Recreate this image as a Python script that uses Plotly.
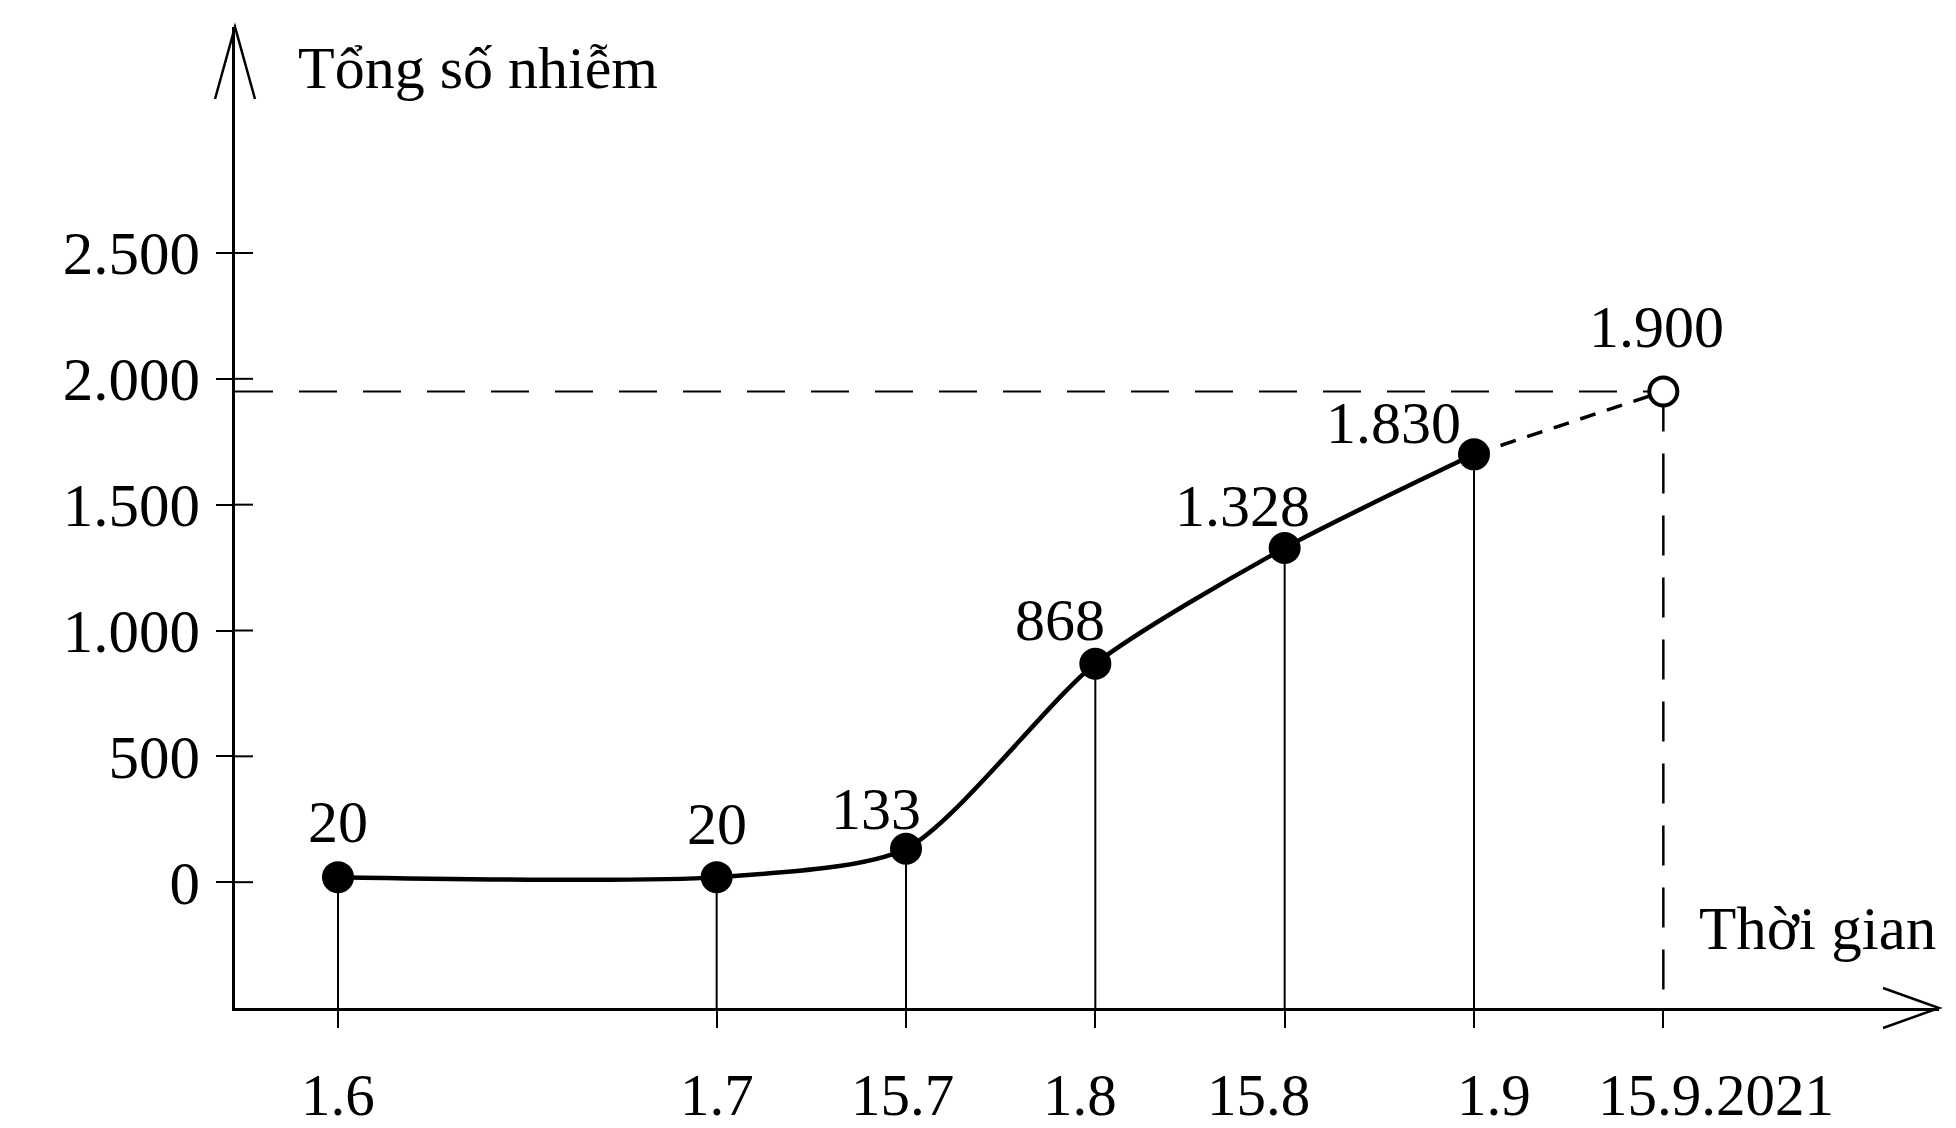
import plotly.graph_objects as go

# ---------------- data ----------------
dates = ["1.6", "1.7", "15.7", "1.8", "15.8", "1.9", "15.9.2021"]
date_pos = [0, 2, 3, 4, 5, 6, 7]                     # position of each date on the time axis
plotted_values = [20, 20, 133, 868, 1328, 1700, 1950]  # heights as drawn in the picture
value_labels = ["20", "20", "133", "868", "1.328", "1.830", "1.900"]
y_tick_values = [0, 500, 1000, 1500, 2000, 2500]
y_tick_labels = ["0", "500", "1.000", "1.500", "2.000", "2.500"]
y_title = "Tổng số nhiễm"
x_title = "Thời gian"

# ---------------- styles ----------------
PAGE_OFFSET = 8          # default body margin of the html page
W, H = 1956 - PAGE_OFFSET, 1128 - PAGE_OFFSET
ML, MR, MT, MB = 234.5 - PAGE_OFFSET, 25 - PAGE_OFFSET, 27 - PAGE_OFFSET, 120
PW, PH = W - ML - MR, H - MT - MB
FONT = "Liberation Serif, Times New Roman, serif"
FS = 60
X_RANGE = [-0.544, 8.456]
Y_RANGE = [-500, 3398]
label_shift = [(0, 55), (0, 53), (-30, 40), (-35, 44), (-42, 42), (-81, 31), (-7, 64)]
date_label_xshift = [0, 0, -4, -15, -26, 20, 53]

n_solid = 6
fig = go.Figure()

# drop lines from the solid points to the time axis
dx, dy = [], []
for xv, yv in zip(date_pos[:n_solid], plotted_values[:n_solid]):
    dx += [xv, xv, None]
    dy += [yv, Y_RANGE[0], None]
fig.add_trace(go.Scatter(x=dx, y=dy, mode="lines",
                         line=dict(color="black", width=2), hoverinfo="skip"))

# dashed guides for the forecast point
fx, fy = date_pos[-1], plotted_values[-1]
fig.add_trace(go.Scatter(x=[X_RANGE[0], fx], y=[fy, fy], mode="lines",
                         line=dict(color="black", width=2, dash="38px,26px"), hoverinfo="skip"))
fig.add_trace(go.Scatter(x=[fx, fx], y=[fy, Y_RANGE[0]], mode="lines",
                         line=dict(color="black", width=2.5, dash="40px,22px"), hoverinfo="skip"))

# smooth solid curve
fig.add_trace(go.Scatter(x=date_pos[:n_solid], y=plotted_values[:n_solid], mode="lines",
                         line=dict(color="black", width=4.5, shape="spline", smoothing=0.7),
                         hoverinfo="skip"))
# dashed forecast segment
fig.add_trace(go.Scatter(x=date_pos[n_solid - 1:], y=plotted_values[n_solid - 1:], mode="lines",
                         line=dict(color="black", width=3.5, dash="16px,12px"), hoverinfo="skip"))
# filled markers
fig.add_trace(go.Scatter(x=date_pos[:n_solid], y=plotted_values[:n_solid], mode="markers",
                         marker=dict(color="black", size=32), hoverinfo="skip"))
# open forecast marker
fig.add_trace(go.Scatter(x=[fx], y=[fy], mode="markers",
                         marker=dict(color="white", size=28, line=dict(color="black", width=4)),
                         hoverinfo="skip"))

# value labels
for xv, yv, txt, (sx, sy) in zip(date_pos, plotted_values, value_labels, label_shift):
    fig.add_annotation(x=xv, y=yv, text=txt, showarrow=False, xshift=sx, yshift=sy,
                       font=dict(family=FONT, size=FS, color="black"))

# date labels under the time axis
for xv, txt, sx in zip(date_pos, dates, date_label_xshift):
    fig.add_annotation(x=xv, xref="x", y=0, yref="paper", text=txt, showarrow=False,
                       xshift=sx, yshift=-87, yanchor="middle",
                       font=dict(family=FONT, size=59, color="black"))

# axis titles (positions given in page pixels)
fig.add_annotation(xref="paper", yref="paper",
                   x=(296 - PAGE_OFFSET - ML) / PW, y=(H - MB - (68 - PAGE_OFFSET)) / PH,
                   text=y_title, showarrow=False, xanchor="left", yanchor="middle",
                   font=dict(family=FONT, size=FS, color="black"))
fig.add_annotation(xref="paper", yref="paper",
                   x=(1697 - PAGE_OFFSET - ML) / PW, y=(H - MB - (928 - PAGE_OFFSET)) / PH,
                   text=x_title, showarrow=False, xanchor="left", yanchor="middle",
                   font=dict(family=FONT, size=61, color="black"))

# inner halves of the y ticks (ticks cross the axis)
for tv in y_tick_values:
    fig.add_shape(type="line", xref="paper", yref="y", x0=0, x1=18 / PW, y0=tv, y1=tv,
                  line=dict(color="black", width=2))

# open arrowheads on both axes
ax_w, ax_h = 20 / PW, 72 / PH
fig.add_shape(type="path", xref="paper", yref="paper",
              path=f"M {-ax_w} {1 - ax_h} L 0 1 L {ax_w} {1 - ax_h}",
              line=dict(color="black", width=2.5))
bx_w, bx_h = 56 / PW, 20 / PH
fig.add_shape(type="path", xref="paper", yref="paper",
              path=f"M {1 - bx_w} {bx_h} L 1 0 L {1 - bx_w} {-bx_h}",
              line=dict(color="black", width=2.5))

fig.update_layout(
    width=W, height=H,
    margin=dict(l=ML, r=MR, t=MT, b=MB, pad=0, autoexpand=False),
    paper_bgcolor="white", plot_bgcolor="white",
    showlegend=False,
    font=dict(family=FONT, size=FS, color="black"),
    xaxis=dict(range=X_RANGE, showgrid=False, zeroline=False, automargin=False,
               showline=True, linecolor="black", linewidth=2.5,
               tickmode="array", tickvals=date_pos, showticklabels=False,
               ticks="outside", ticklen=17, tickwidth=2, tickcolor="black"),
    yaxis=dict(range=Y_RANGE, showgrid=False, zeroline=False, automargin=False,
               showline=True, linecolor="black", linewidth=2.5,
               tickmode="array", tickvals=y_tick_values, ticktext=y_tick_labels,
               ticks="outside", ticklen=16, tickwidth=2, tickcolor="black",
               ticklabelstandoff=4,
               tickfont=dict(family=FONT, size=61, color="black")),
)

fig.write_html("out.html")
